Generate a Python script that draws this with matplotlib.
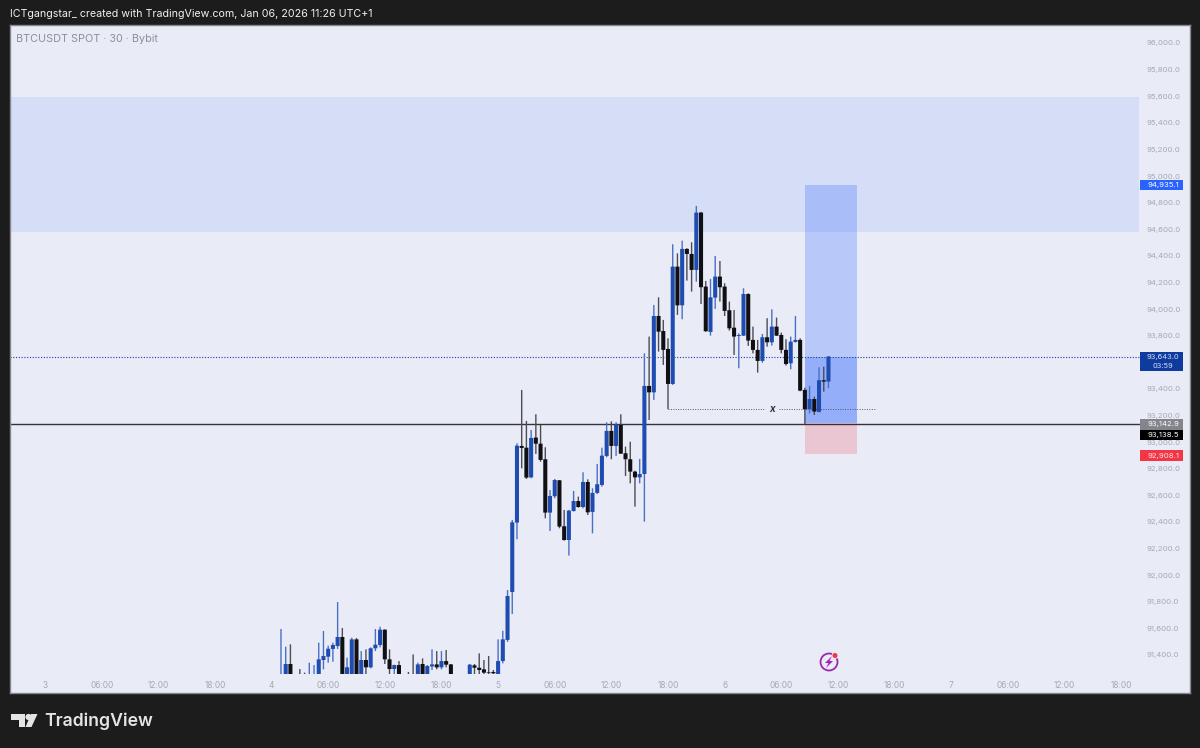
import matplotlib
matplotlib.use("Agg")
import matplotlib.pyplot as plt
from matplotlib.patches import Circle, Polygon, Rectangle

plt.rcParams['font.family'] = ['Inter', 'DejaVu Sans']

# 30 minute candles, first one is bar 50 counted from the "3" day tick
first_bar = 50
opens = [91180,91200,91332,91200,91240,91240,91200,91210,91230,91362,91387,91445,91467,91535,91220,91230,91517,91230,91362,91307,
         91450,91475,91590,91367,91294,91324,91210,91240,91230,91220,91332,91230,91314,91329,91307,91354,91329,91230,91230,91230,
         91220,91322,91304,91292,91269,91272,91240,91354,91513,91873,92395,92971,92958,92735,93034,92988,92871,92470,92593,92713,
         92367,92264,92482,92557,92512,92700,92475,92618,92678,92896,93084,92971,93129,92916,92871,92778,92735,92760,93422,93374,
         93948,93835,93700,93437,94319,94028,94452,94414,94294,94725,94169,93828,94086,94244,94169,93991,93860,93798,93800,94113,
         93768,93693,93610,93788,93750,93868,93805,93693,93592,93753,93768,93392,93247,93324,93227,93465,93455]
highs = [91595,91462,91480,91240,91294,91267,91342,91324,91492,91580,91470,91492,91798,91602,91379,91530,91527,91429,91442,91457,
         91595,91612,91592,91442,91327,91354,91230,91272,91404,91342,91374,91324,91442,91429,91429,91437,91332,91250,91250,91250,
         91332,91332,91412,91362,91392,91287,91517,91582,91888,92415,92991,93392,93159,93091,93209,93129,92961,92640,92723,92715,
         92490,92490,92633,92590,92773,92720,92653,92836,92958,93149,93156,93149,93209,92966,93003,92785,92873,93667,93793,94031,
         94088,93918,93780,94487,94419,94514,94457,94502,94775,94730,94211,94226,94399,94361,94194,94056,93993,93818,94156,94118,
         93868,93768,93813,93931,93998,93936,93823,93773,93793,93948,93780,93409,93422,93342,93562,93567,93647]
lows = [91150,91150,91150,91150,91170,91180,91180,91180,91200,91292,91342,91349,91445,91180,91180,91200,91190,91200,91250,91300,
        91429,91457,91332,91240,91240,91200,91170,91180,91170,91180,91190,91200,91287,91292,91292,91307,91190,91180,91180,91180,
        91190,91230,91230,91230,91230,91240,91220,91337,91498,91708,92269,92803,92723,92728,92911,92853,92427,92332,92578,92352,
        92259,92147,92477,92507,92502,92452,92314,92610,92665,92886,92871,92896,92911,92745,92690,92515,92690,92402,93166,93317,
        93680,93580,93247,93430,93956,93923,94214,94131,94206,94038,93830,93800,94001,94056,93948,93838,93655,93555,93798,93723,
        93667,93522,93597,93718,93725,93798,93667,93575,93547,93748,93382,93136,93216,93204,93222,93379,93404]
closes = [91220,91332,91200,91220,91200,91210,91240,91240,91367,91392,91447,91475,91535,91220,91307,91517,91220,91362,91307,91450,
          91477,91590,91367,91294,91324,91240,91200,91210,91200,91329,91220,91317,91329,91307,91354,91327,91220,91210,91210,91210,
          91327,91304,91287,91267,91264,91262,91354,91517,91843,92397,92973,92956,92733,93031,92988,92866,92470,92595,92715,92365,
          92264,92485,92557,92512,92700,92472,92618,92683,92898,93084,92971,93134,92913,92871,92778,92735,92760,93422,93374,93948,
          93830,93693,93437,94319,94028,94452,94414,94294,94725,94164,93833,94088,94244,94164,93986,93855,93793,93805,94113,93763,
          93693,93610,93788,93750,93868,93800,93693,93587,93755,93768,93387,93247,93324,93229,93465,93455,93643]

zone_top, zone_bottom = 95594, 94579
target, entry, stop = 94935.1, 93142.9, 92908.1
last_price = 93643.0
black_line = 93138.5
swing_level = 93249
box_left, box_right = 161, 172
swing_left, swing_right, swing_mark = 132, 176, 154
scale_edge = 231.8

price_ticks = list(range(91400, 96001, 200))
time_ticks = list(range(0, 229, 12))
time_labels = ["3", "06:00", "12:00", "18:00", "4", "06:00", "12:00", "18:00", "5", "06:00", "12:00", "18:00",
               "6", "06:00", "12:00", "18:00", "7", "06:00", "12:00", "18:00"]

BG = "#e9ebf7"
DARK = "#1c1c1c"
UP = "#1f4cb0"
DOWN = "#101014"
AXIS_TXT = "#a6a8b4"

W, H = 1200, 748
fig = plt.figure(figsize=(W / 100, H / 100), dpi=100, facecolor=DARK)
ax = fig.add_axes([10 / W, 1 - 693 / H, 1180 / W, 668 / H], facecolor=BG)
ax.set_xlim(-7.415, 242.6)
ax.set_ylim(91114, 96135)
ax.set_axisbelow(False)

# zones
ax.fill_between([-7.415, scale_edge], zone_bottom, zone_top, color="#2962ff", alpha=0.1, lw=0, zorder=1)
ax.fill_between([box_left, box_right], entry, target, color="#2962ff", alpha=0.25, lw=0, zorder=1.1)
ax.fill_between([box_left, box_right], entry, last_price, color="#2962ff", alpha=0.25, lw=0, zorder=1.2)
ax.fill_between([box_left, box_right], stop, entry, color="#f23645", alpha=0.2, lw=0, zorder=1.1)

# levels
ax.plot([-7.415, scale_edge], [last_price, last_price], color="#1c3f9c", lw=0.8, ls=(0, (1, 1.5)), zorder=1.5)
ax.plot([-7.415, scale_edge], [black_line, black_line], color="#333338", lw=1.0, zorder=1.5)
ax.plot([swing_left, swing_mark - 1.6], [swing_level, swing_level], color="#55565e", lw=0.7, ls=(0, (1, 1.5)), zorder=1.5)
ax.plot([swing_mark + 1.6, swing_right], [swing_level, swing_level], color="#55565e", lw=0.7, ls=(0, (1, 1.5)), zorder=1.5)
ax.text(swing_mark, swing_level, "x", ha="center", va="center", fontsize=7, style="italic", weight="bold",
        color="#33343a", zorder=2)

# candles, no pixel snapping so the widths stay even and a bit soft
for i in range(len(opens)):
    x = first_bar + i
    up = closes[i] >= opens[i]
    wick = ax.vlines(x, lows[i], highs[i], color="#4a70c6" if up else "#4c4c54", lw=1.0, zorder=1.9)
    wick.set_snap(False)
    bars = ax.bar(x, abs(closes[i] - opens[i]), bottom=min(opens[i], closes[i]), width=0.86,
                  color=UP if up else DOWN, lw=0, zorder=2)
    bars[0].set_snap(False)

# time scale strip hides what is under it
ax.axhspan(91114, 91256, color=BG, lw=0, zorder=2.2)

ax.yaxis.tick_right()
ax.set_yticks(price_ticks)
ax.set_yticklabels([f"{p:,.1f}" for p in price_ticks])
ax.tick_params(axis="y", length=0, pad=-31, labelsize=5.6, labelcolor=AXIS_TXT)
ax.set_xticks(time_ticks)
ax.set_xticklabels(time_labels)
ax.tick_params(axis="x", length=0, pad=-8.4, labelsize=6, labelcolor=AXIS_TXT)
for s in ax.spines.values():
    s.set_color("#85868e")
    s.set_linewidth(1)

# overlay in pixels for header, tags, logo and icon
ov = fig.add_axes([0, 0, 1, 1], facecolor="none", zorder=10)
ov.set_xlim(0, W)
ov.set_ylim(H, 0)
ov.axis("off")

ov.text(10, 14, "ICTgangstar_ created with TradingView.com, Jan 06, 2026 11:26 UTC+1", color="#f0f0f0",
        fontsize=7.68, va="center", ha="left")
ov.text(16, 38.5, "BTCUSDT SPOT · 30 · Bybit", color="#8d8f9b", fontsize=7.8, va="center", ha="left")


def tag(y0, y1, face, lines, color="white"):
    ov.add_patch(Rectangle((1139.5, y0), 43, y1 - y0, facecolor=face, edgecolor="none"))
    for yy, s, fs in lines:
        ov.text(1163, yy, s, color=color, fontsize=fs, ha="center", va="center")


tag(180, 190, "#2962ff", [(185, f"{target:,.1f}", 5.6)])
tag(352, 371, "#0f3a9e", [(357.3, f"{last_price:,.1f}", 5.4), (365.8, "03:59", 5.4)], "#d5def5")
tag(419, 429.5, "#84848c", [(424, f"{entry:,.1f}", 5.6)])
tag(429.5, 440, "#000000", [(435, f"{black_line:,.1f}", 5.6)])
tag(450, 461, "#f23645", [(455.5, f"{stop:,.1f}", 5.6)], "#ffe2e5")

# event icon
ov.add_patch(Circle((829, 662), 8.5, fill=False, edgecolor="#9c27b0", lw=1.3))
ov.add_patch(Polygon([(832, 656), (825, 663), (828.5, 663), (826, 668), (833, 661), (829.5, 661)], color="#9c27b0", lw=0))
ov.add_patch(Circle((835, 655.5), 3.4, color=BG, lw=0))
ov.add_patch(Circle((835, 655.5), 2.5, color="#f23645", lw=0))

# logo
logo = "#e4e4e4"
ov.add_patch(Polygon([(11, 714), (25, 714), (25, 727), (18.5, 727), (18.5, 720), (11, 720)], color=logo, lw=0))
ov.add_patch(Circle((28.5, 717), 3.1, color=logo, lw=0))
ov.add_patch(Polygon([(31, 714), (37.5, 714), (31.5, 727), (25.5, 727)], color=logo, lw=0))
ov.text(44.5, 721, "TradingView", color=logo, fontsize=12.7, weight="semibold", va="center", ha="left")

fig.savefig("out.png", dpi=100, facecolor=DARK)
